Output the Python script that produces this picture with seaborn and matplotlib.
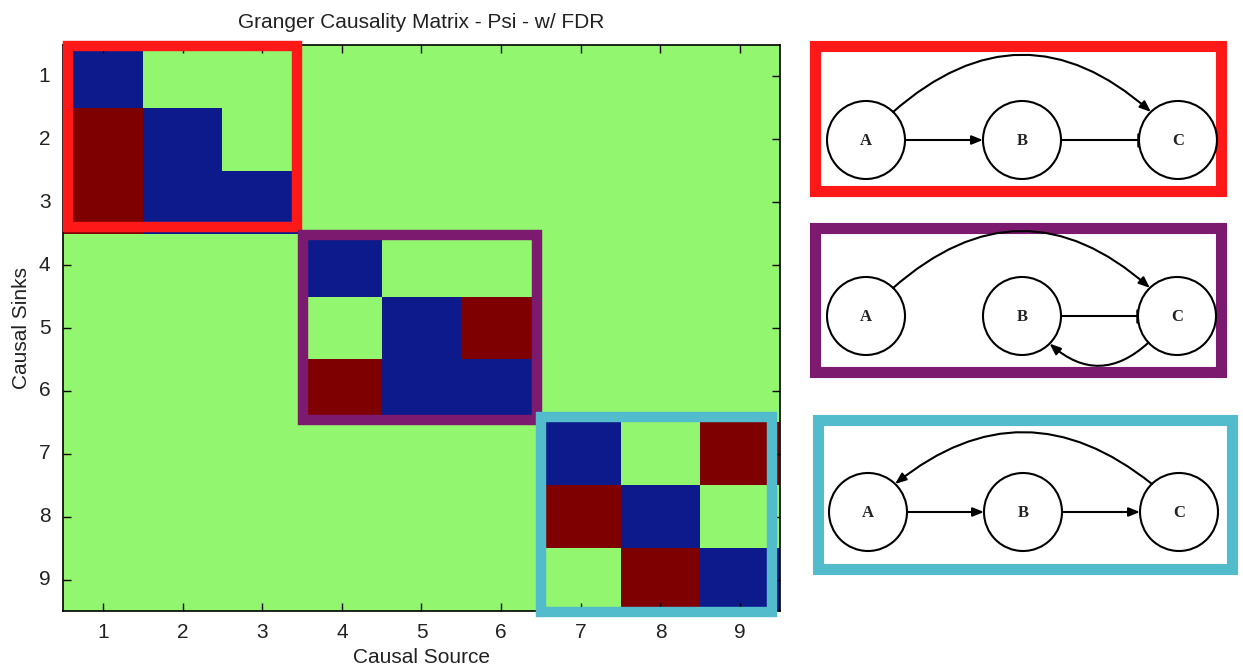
import numpy as np
import pandas as pd
import seaborn as sns
import matplotlib
matplotlib.use("Agg")
import matplotlib.pyplot as plt
from matplotlib.colors import ListedColormap, BoundaryNorm
from matplotlib.patches import Rectangle, Circle, FancyArrowPatch

# ---------------- data ----------------
source_labels = ["1", "2", "3", "4", "5", "6", "7", "8", "9"]
sink_labels = ["1", "2", "3", "4", "5", "6", "7", "8", "9"]
# -1 = self / negative (blue), 0 = no causality (green), 1 = causal (dark red)
causality = [
    [-1, 0, 0, 0, 0, 0, 0, 0, 0],
    [1, -1, 0, 0, 0, 0, 0, 0, 0],
    [1, -1, -1, 0, 0, 0, 0, 0, 0],
    [0, 0, 0, -1, 0, 0, 0, 0, 0],
    [0, 0, 0, 0, -1, 1, 0, 0, 0],
    [0, 0, 0, 1, -1, -1, 0, 0, 0],
    [0, 0, 0, 0, 0, 0, -1, 0, 1],
    [0, 0, 0, 0, 0, 0, 1, -1, 0],
    [0, 0, 0, 0, 0, 0, 0, 1, -1],
]
title = "Granger Causality Matrix - Psi - w/ FDR"
node_names = ["A", "B", "C"]

# ---------------- style ----------------
sns.set_style("white")
plt.rcParams["font.family"] = ["Liberation Sans", "DejaVu Sans"]

W, H = 1243, 669
fig = plt.figure(figsize=(W / 100, H / 100), dpi=100)
fig.patch.set_facecolor("white")

RED = "#fe1818"
PURPLE = "#7c1a70"
CYAN = "#52bccc"

# overlay axes in pixel coordinates for the diagrams
ov = fig.add_axes([0, 0, 1, 1])
ov.set_xlim(0, W)
ov.set_ylim(H, 0)
ov.axis("off")
ov.patch.set_alpha(0)

# main heatmap axes
ax_l, ax_r, ax_t, ax_b = 63, 780, 45, 611
ax = fig.add_axes([ax_l / W, (H - ax_b) / H, (ax_r - ax_l) / W, (ax_b - ax_t) / H])

df = pd.DataFrame(causality, index=sink_labels, columns=source_labels)
cmap = ListedColormap(["#0c1a8c", "#92f76e", "#7f0000"])
norm = BoundaryNorm([-1.5, -0.5, 0.5, 1.5], cmap.N)
sns.heatmap(df, ax=ax, cmap=cmap, norm=norm, cbar=False, square=False,
            linewidths=0, xticklabels=True, yticklabels=True)
ax.set_axisbelow(False)

ax.set_title(title, fontsize=15, color="#222222", pad=12)
ax.set_xlabel("Causal Source", fontsize=15, color="#222222", labelpad=4)
ax.set_ylabel("Causal Sinks", fontsize=15, color="#222222", labelpad=6)
for s in ax.spines.values():
    s.set_visible(True)
    s.set_color("black")
    s.set_linewidth(1.2)
    s.set_zorder(3)
ax.tick_params(axis="both", which="both", direction="in", length=6, width=1,
               top=True, right=True, bottom=True, left=True, color="black",
               labelsize=15, labelcolor="#222222", pad=9)
ax.set_yticklabels(sink_labels, rotation=0)
ax.set_xticklabels(source_labels, rotation=0)

# highlight boxes on the heatmap (data coords)
hm_boxes = [
    (0.06, 0.02, 2.94, 2.89, RED),
    (3.01, 3.02, 5.95, 5.96, PURPLE),
    (6.00, 5.91, 8.90, 9.01, CYAN),
]
for x0, y0, x1, y1, c in hm_boxes:
    r = Rectangle((x0, y0), x1 - x0, y1 - y0, fill=False, edgecolor=c,
                  linewidth=7.5, clip_on=False, zorder=5, joinstyle="miter")
    ax.add_patch(r)

# ---------------- diagrams ----------------
R = 39
diagrams = [
    dict(box=(815.5, 45.5, 1221.5, 190.5), color=RED, y=140, xs=(866, 1022, 1178),
         edges=[("A", "B", "arrow"), ("B", "C", "inhibit"), ("A", "C", "arc_top")]),
    dict(box=(815.5, 227.5, 1221.5, 371.5), color=PURPLE, y=316, xs=(866, 1022, 1177),
         edges=[("B", "C", "inhibit"), ("A", "C", "arc_top"), ("C", "B", "arc_bottom")]),
    dict(box=(818.5, 419.5, 1232.5, 568.5), color=CYAN, y=512, xs=(868, 1023, 1179),
         edges=[("A", "B", "arrow"), ("B", "C", "arrow"), ("C", "A", "arc_top")]),
]

arrow_kw = dict(arrowstyle="-|>,head_length=0.55,head_width=0.22", mutation_scale=12,
                color="black", linewidth=1.5, shrinkA=0, shrinkB=0, zorder=4)

def on_circle(cx, cy, deg):
    a = np.deg2rad(deg)
    return cx + R * np.cos(a), cy - R * np.sin(a)

for d in diagrams:
    x0, y0, x1, y1 = d["box"]
    rect = Rectangle((x0, y0), x1 - x0, y1 - y0, fill=False, edgecolor=d["color"],
                     linewidth=8, joinstyle="miter", zorder=3)
    ov.add_patch(rect)
    pos = {n: (x, d["y"]) for n, x in zip(node_names, d["xs"])}
    for n, (cx, cy) in pos.items():
        ov.add_patch(Circle((cx, cy), R, fill=False, edgecolor="black",
                            linewidth=1.5, zorder=4))
        ov.text(cx, cy + 1, n, ha="center", va="center", fontsize=12,
                fontweight="bold", family=["Liberation Serif", "DejaVu Serif"],
                color="#222222", zorder=5)
    for a, b, kind in d["edges"]:
        (ax_, ay), (bx, by) = pos[a], pos[b]
        if kind == "arrow":
            ov.add_patch(FancyArrowPatch((ax_ + R, ay), (bx - R, by), **arrow_kw))
        elif kind == "inhibit":
            ov.plot([ax_ + R, bx - R], [ay, by], color="black", lw=1.5, zorder=4,
                    solid_capstyle="butt")
            ov.plot([bx - R - 1, bx - R - 1], [by - 6, by + 6], color="black",
                    lw=1.8, zorder=4)
        elif kind == "arc_top":
            if ax_ < bx:
                p0 = on_circle(ax_, ay, 46)
                p1 = on_circle(bx, by, 134)
                rad = -0.44
            else:
                p0 = on_circle(ax_, ay, 134)
                p1 = on_circle(bx, by, 46)
                rad = 0.40
            ov.add_patch(FancyArrowPatch(p0, p1, connectionstyle=f"arc3,rad={rad}",
                                         **arrow_kw))
        elif kind == "arc_bottom":
            p0 = on_circle(ax_, ay, -137)
            p1 = on_circle(bx, by, -45)
            ov.add_patch(FancyArrowPatch(p0, p1, connectionstyle="arc3,rad=-0.45",
                                         **arrow_kw))

fig.savefig("out.png", dpi=100, facecolor="white")
